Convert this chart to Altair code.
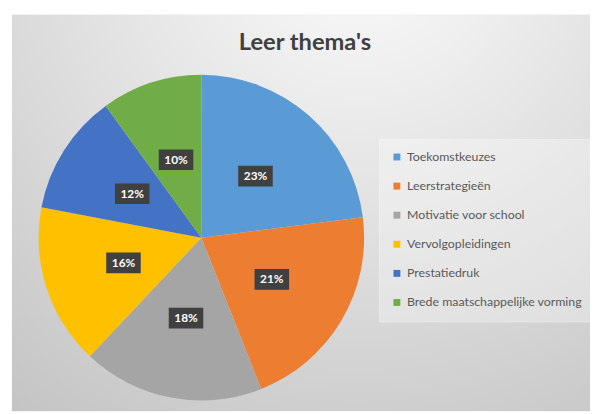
import altair as alt
import pandas as pd

TITLE = "Leer thema's"
categories = ["Toekomstkeuzes", "Leerstrategieën", "Motivatie voor school",
              "Vervolgopleidingen", "Prestatiedruk", "Brede maatschappelijke vorming"]
values = [23, 21, 18, 16, 12, 10]
colors = ["#5B9BD5", "#ED7D31", "#A5A5A5", "#FFC000", "#4472C4", "#70AD47"]

W, H = 586, 402
CX, CY, R, LR = 192, 226, 165, 83
FONT = "Lato"

df = pd.DataFrame({"cat": categories, "val": values, "idx": list(range(len(values)))})
base = alt.Chart(df)

bg = alt.Chart(alt.Data(values=[{}])).mark_rect(
    fill={"gradient": "radial", "x1": 0.6, "y1": 0.02, "r1": 0.0,
          "x2": 0.6, "y2": 0.02, "r2": 1.05,
          "stops": [{"offset": 0, "color": "#fcfcfc"},
                    {"offset": 0.45, "color": "#e2e2e2"},
                    {"offset": 1, "color": "#c2c2c2"}]}
).encode(x=alt.value(0), x2=alt.value(W), y=alt.value(0), y2=alt.value(H))

title = alt.Chart(alt.Data(values=[{}])).mark_text(
    text=TITLE, font=FONT, fontSize=24, fontWeight="bold", color="#404040"
).encode(x=alt.value(W / 2 + 4), y=alt.value(29))

pie = base.mark_arc(outerRadius=R).encode(
    theta=alt.Theta("val:Q", stack=True),
    order=alt.Order("idx:Q"),
    color=alt.Color("cat:N", sort=categories,
                    scale=alt.Scale(domain=categories, range=colors),
                    legend=alt.Legend(title=None, orient="none", legendX=372, legendY=126,
                                      symbolType="square", symbolSize=49, symbolStrokeWidth=0,
                                      labelFont=FONT, labelFontSize=12.5, labelColor="#595959",
                                      labelLimit=300, rowPadding=16.5, labelOffset=4,
                                      padding=12, fillColor="rgba(255,255,255,0.3)",
                                      strokeColor="rgba(255,255,255,0.35)")),
    x=alt.value(CX), y=alt.value(CY),
)

pos = base.transform_joinaggregate(total="sum(val)").transform_window(
    cum="sum(val)", sort=[alt.SortField("idx")]
).transform_calculate(
    ang=f"(datum.cum - datum.val/2) / datum.total * 2 * PI",
    px=f"{CX} + {LR} * sin(datum.ang)",
    py=f"{CY} - {LR} * cos(datum.ang)",
    lbl="format(datum.val/datum.total, '.0%')",
)

boxes = pos.mark_point(shape="M-1,-0.6H1V0.6H-1Z", filled=True, color="#404040",
                       opacity=1, size=1225).encode(
    x=alt.X("px:Q", scale=None), y=alt.Y("py:Q", scale=None))

labels = pos.mark_text(font=FONT, fontSize=12, fontWeight="bold", color="white").encode(
    x=alt.X("px:Q", scale=None), y=alt.Y("py:Q", scale=None), text="lbl:N")

chart = alt.layer(bg, title, pie, boxes, labels).properties(
    width=W, height=H, autosize=alt.AutoSizeParams(type="none"),
    padding={"left": 4, "top": 4, "right": 0, "bottom": 0},
).configure_view(strokeWidth=0)

chart.save("out.html", embed_options={"renderer": "svg", "actions": False})
